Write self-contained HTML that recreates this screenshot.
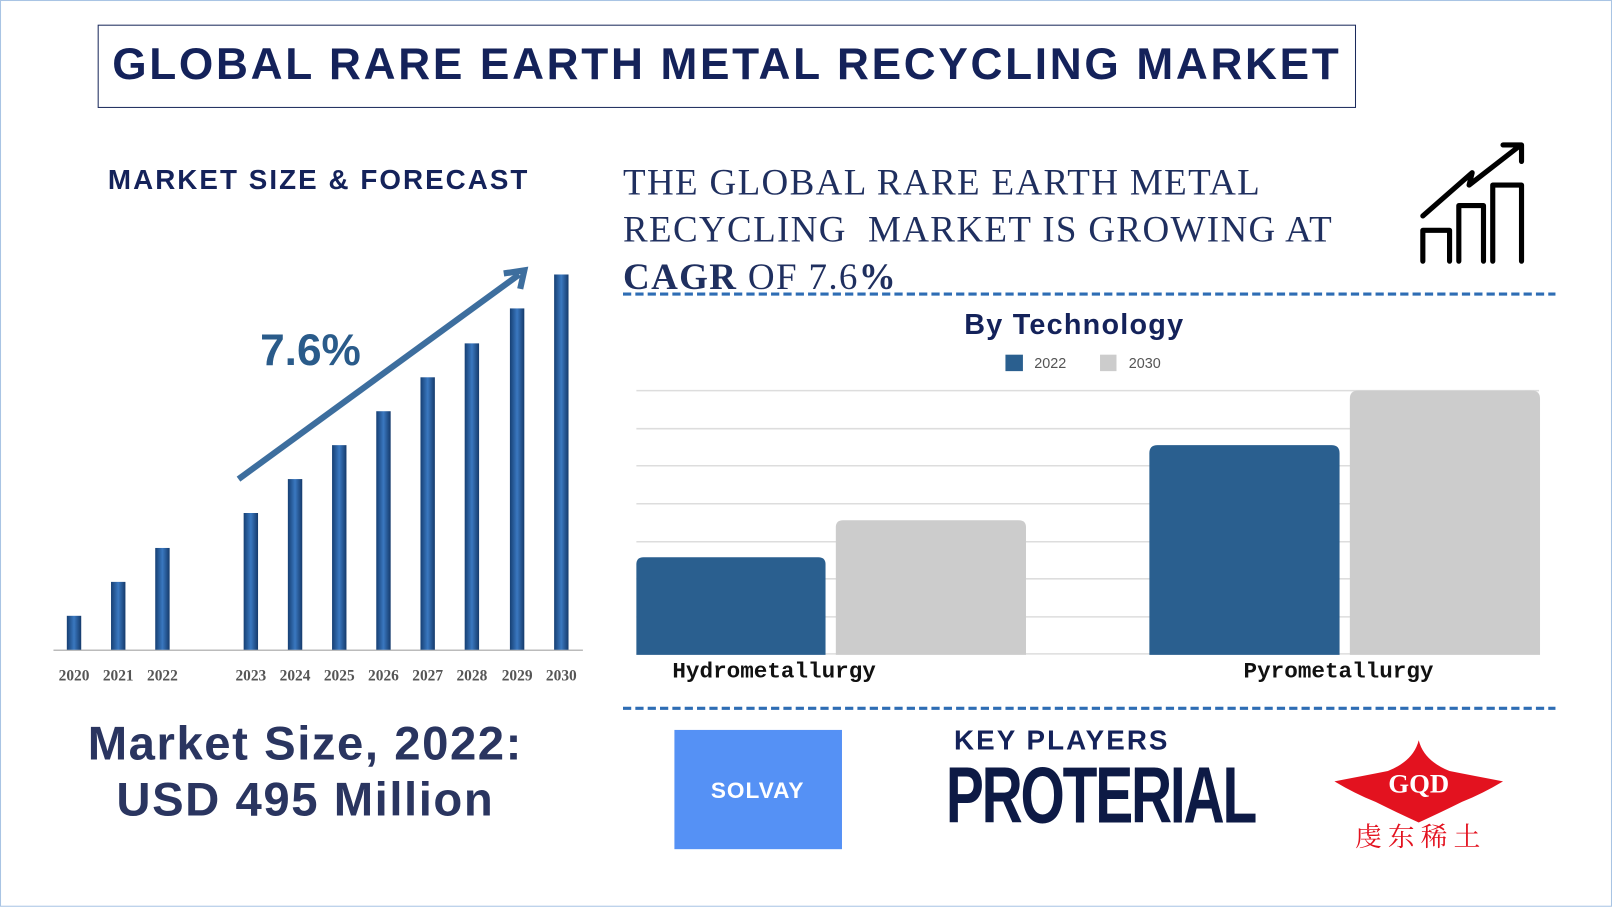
<!DOCTYPE html>
<html><head><meta charset="utf-8"><style>
html,body{margin:0;padding:0;background:#fff;width:1612px;height:907px;overflow:hidden}
#w{position:absolute;left:0;top:0;width:1568px;height:882px;transform:scale(1.02806);transform-origin:0 0;font-family:"Liberation Sans",sans-serif}
.a{position:absolute;white-space:nowrap}
</style></head><body><div id="w">
<div class="a" style="left:0;top:0;width:1566px;height:880px;border:1px solid #a9c4e4"></div>
<div class="a" style="left:95px;top:24px;width:1222px;height:79px;border:1.5px solid #1b2a5c"></div>
<div class="a" style="left:95px;top:39px;width:1224px;text-align:center;font-size:43px;font-weight:900;color:#14225a;letter-spacing:2.6px;">GLOBAL RARE EARTH METAL RECYCLING MARKET</div>
<div class="a" style="left:91px;top:160px;width:438px;text-align:center;font-size:27px;font-weight:900;color:#14225a;letter-spacing:2px">MARKET SIZE &amp; FORECAST</div>
<svg class="a" style="left:0;top:0" width="1568" height="882">
<defs><linearGradient id="bg" x1="0" x2="1"><stop offset="0" stop-color="#163f73"/><stop offset=".5" stop-color="#3a78c0"/><stop offset="1" stop-color="#153a6b"/></linearGradient></defs>
<line x1="52" y1="632.5" x2="567" y2="632.5" stroke="#bbb" stroke-width="1.5"/>
<g fill="url(#bg)">
<rect x="65" y="599" width="14" height="33"/><rect x="108" y="566" width="14" height="66"/><rect x="151" y="533" width="14" height="99"/>
<rect x="237" y="499" width="14" height="133"/><rect x="280" y="466" width="14" height="166"/><rect x="323" y="433" width="14" height="199"/>
<rect x="366" y="400" width="14" height="232"/><rect x="409" y="367" width="14" height="265"/><rect x="452" y="334" width="14" height="298"/>
<rect x="496" y="300" width="14" height="332"/><rect x="539" y="267" width="14" height="365"/></g>
<g font-family="Liberation Serif,serif" font-size="15" fill="#555" text-anchor="middle" font-weight="bold">
<text x="72" y="662">2020</text><text x="115" y="662">2021</text><text x="158" y="662">2022</text><text x="244" y="662">2023</text><text x="287" y="662">2024</text><text x="330" y="662">2025</text><text x="373" y="662">2026</text><text x="416" y="662">2027</text><text x="459" y="662">2028</text><text x="503" y="662">2029</text><text x="546" y="662">2030</text></g>
<line x1="232" y1="466" x2="505" y2="267" stroke="#3d6e9e" stroke-width="6"/>
<polyline points="490,266 510,263 506,281" fill="none" stroke="#3d6e9e" stroke-width="6"/>
<text x="302" y="355" font-size="43" font-weight="bold" fill="#2a5b8a" text-anchor="middle">7.6%</text>
<line x1="606" y1="286" x2="1513" y2="286" stroke="#2e6db4" stroke-width="3" stroke-dasharray="8,4"/>
<line x1="606" y1="689" x2="1513" y2="689" stroke="#2e6db4" stroke-width="3" stroke-dasharray="8,4"/>
<g stroke="#ddd" stroke-width="1.5"><line x1="619" x2="1497" y1="380" y2="380"/><line x1="619" x2="1497" y1="417" y2="417"/><line x1="619" x2="1497" y1="453" y2="453"/><line x1="619" x2="1497" y1="490" y2="490"/><line x1="619" x2="1497" y1="527" y2="527"/><line x1="619" x2="1497" y1="563" y2="563"/><line x1="619" x2="1497" y1="600" y2="600"/><line x1="619" x2="1497" y1="636" y2="636"/></g>
<path d="M619 637V549q0-7 7-7h170q7 0 7 7V637Z" fill="#2a5f8f"/>
<path d="M813 637V513q0-7 7-7h171q7 0 7 7V637Z" fill="#cccccc"/>
<path d="M1118 637V441q0-8 8-8h169q8 0 8 8V637Z" fill="#2a5f8f"/>
<path d="M1313 637V388q0-8 8-8h169q8 0 8 8V637Z" fill="#cccccc"/>
<text x="1045" y="325" font-size="28" font-weight="bold" fill="#14225a" text-anchor="middle" letter-spacing="1.2">By Technology</text>
<rect x="978" y="345" width="17" height="16" fill="#2a5f8f"/><text x="1006" y="358" font-size="14" fill="#555">2022</text>
<rect x="1070" y="345" width="16" height="16" fill="#ccc"/><text x="1098" y="358" font-size="14" fill="#555">2030</text>
<g font-family="Liberation Mono,monospace" font-size="22" font-weight="bold" fill="#111" text-anchor="middle"><text x="753" y="659">Hydrometallurgy</text><text x="1302" y="659">Pyrometallurgy</text></g>
<g fill="none" stroke="#000" stroke-width="5" stroke-linecap="round" stroke-linejoin="round">
<path d="M1384 254V224h26v30"/><path d="M1419 254V200h24v54"/><path d="M1452 254V180h28v74"/>
<path d="M1384 210L1432 168l-3 12L1478 142"/><path d="M1462 141h18v16"/></g>
<rect x="656" y="710" width="163" height="116" fill="#5591f5"/>
<text x="737" y="776" font-size="22" font-weight="bold" fill="#fff" text-anchor="middle" letter-spacing="1">SOLVAY</text>
<path d="M1380 720q5 20 30 30q25 5 52 10q-20 12 -40 20q-20 10 -42 20q-22 -10 -42 -20q-20 -8 -40 -20q27 -5 52 -10q25 -10 30 -30Z" fill="#e3121f"/>
<text x="1380" y="771" font-family="Liberation Serif,serif" font-size="26" font-weight="bold" fill="#fff" text-anchor="middle">GQD</text>
<text x="1382" y="823" font-family="Noto Serif CJK SC,serif" font-size="26" fill="#e3121f" text-anchor="middle" letter-spacing="6">虔东稀土</text>
</svg>
<div class="a" style="left:606px;top:154px;font-family:'Liberation Serif',serif;font-size:36px;letter-spacing:1.3px;color:#1f2f5f;line-height:46px">THE GLOBAL RARE EARTH METAL<br>RECYCLING&nbsp; MARKET IS GROWING AT<br><b>CAGR</b> OF 7.6<b>%</b></div>
<div class="a" style="left:30px;top:696px;width:534px;text-align:center;font-size:46px;font-weight:bold;color:#2a3560;line-height:54px;letter-spacing:1.5px">Market Size, 2022:<br>USD 495 Million</div>
<div class="a" style="left:928px;top:705px;font-size:27px;font-weight:900;color:#14225a;letter-spacing:2px">KEY PLAYERS</div>
<div class="a" style="left:920px;top:728px;font-size:78px;font-weight:900;color:#0d1a45;letter-spacing:-3px;transform:scaleX(0.71);transform-origin:0 0;line-height:90px">PROTERIAL</div>
</div></body></html>
